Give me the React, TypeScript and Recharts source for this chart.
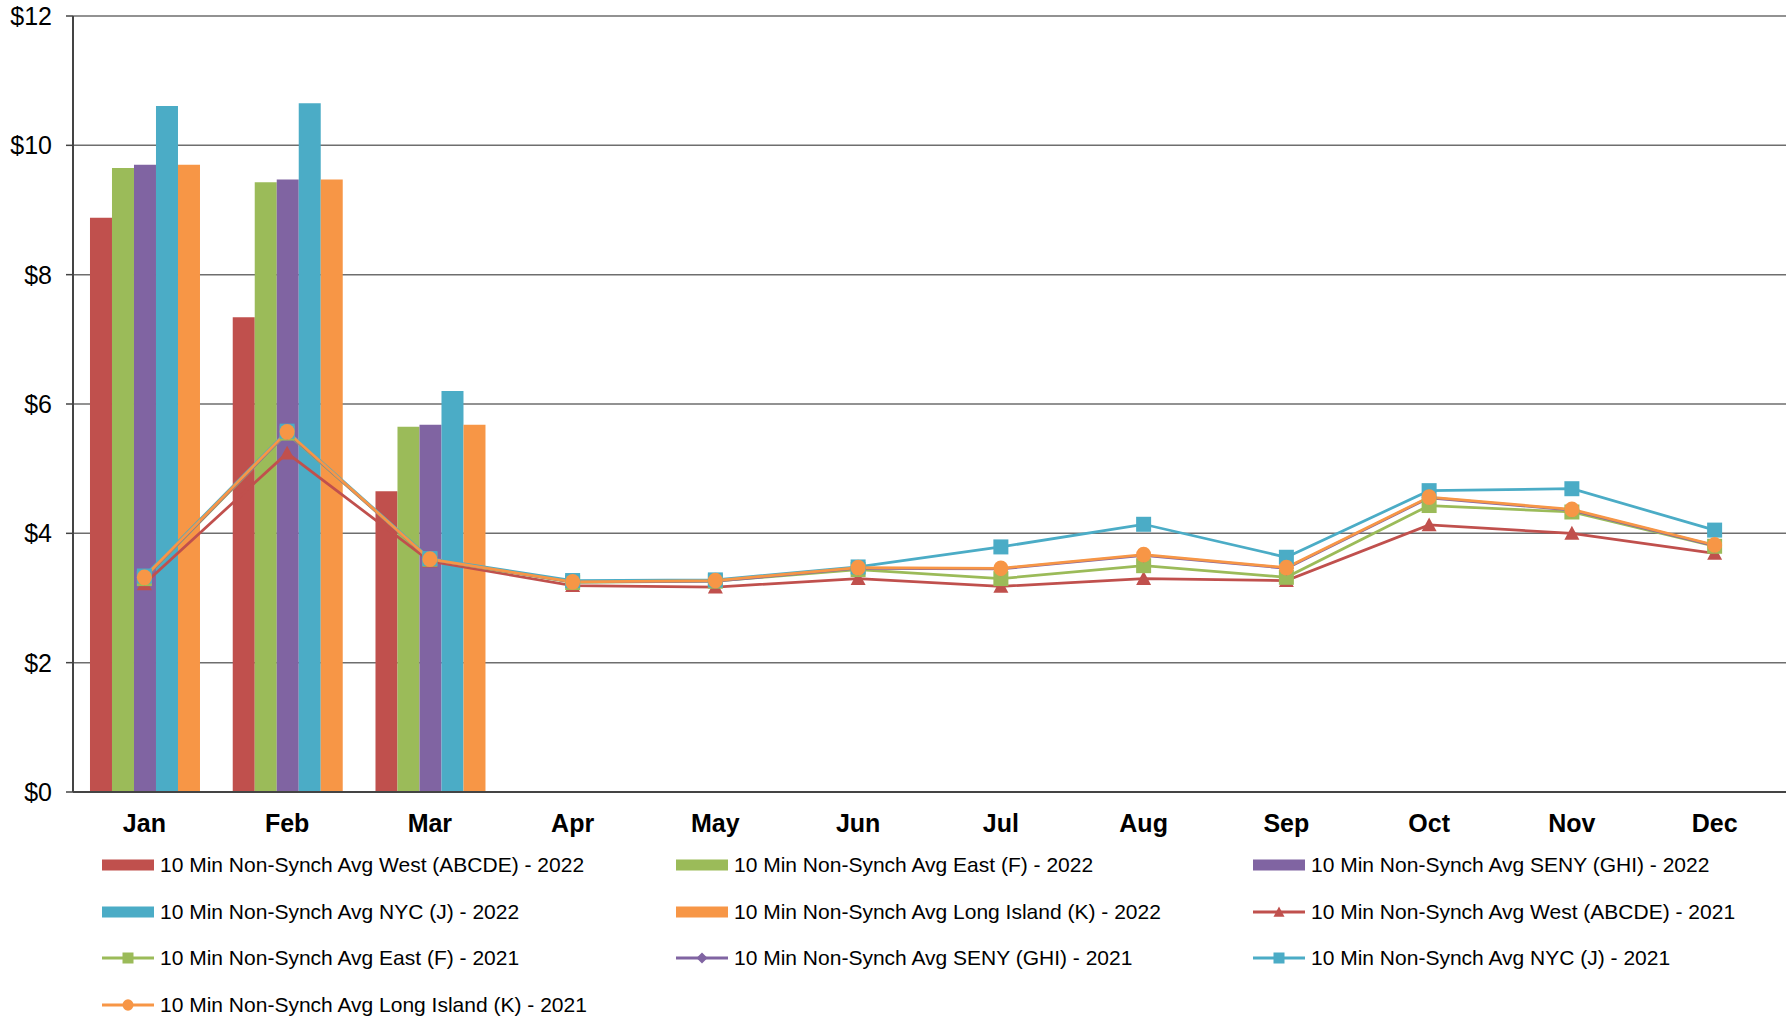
import React from "react";
import { ComposedChart, Bar, Line, XAxis, YAxis, CartesianGrid, Legend } from "recharts";

const months = ["Jan", "Feb", "Mar", "Apr", "May", "Jun", "Jul", "Aug", "Sep", "Oct", "Nov", "Dec"];
const yTicks = [0, 2, 4, 6, 8, 10, 12];

// 2022 monthly averages (bars, Jan-Mar only)
const west2022 = [8.88, 7.34, 4.65];
const east2022 = [9.65, 9.43, 5.65];
const seny2022 = [9.7, 9.47, 5.68];
const nyc2022 = [10.61, 10.65, 6.2];
const li2022 = [9.7, 9.47, 5.68];

// 2021 monthly averages (lines)
const west2021 = [3.22, 5.24, 3.57, 3.19, 3.17, 3.3, 3.18, 3.3, 3.27, 4.13, 4.0, 3.69];
const east2021 = [3.3, 5.55, 3.6, 3.24, 3.26, 3.44, 3.3, 3.5, 3.32, 4.43, 4.33, 3.8];
const seny2021 = [3.31, 5.56, 3.6, 3.25, 3.26, 3.46, 3.45, 3.66, 3.46, 4.55, 4.36, 3.81];
const nyc2021 = [3.34, 5.58, 3.61, 3.27, 3.28, 3.48, 3.79, 4.14, 3.63, 4.66, 4.69, 4.05];
const li2021 = [3.32, 5.57, 3.6, 3.25, 3.27, 3.47, 3.46, 3.67, 3.47, 4.56, 4.37, 3.82];

const RED = "#C0504D";
const GREEN = "#9BBB59";
const PURPLE = "#8064A2";
const BLUE = "#4BACC6";
const ORANGE = "#F79646";

const legendItems = [
  { name: "10 Min Non-Synch Avg West (ABCDE) - 2022", color: RED, kind: "bar" },
  { name: "10 Min Non-Synch Avg East (F) - 2022", color: GREEN, kind: "bar" },
  { name: "10 Min Non-Synch Avg SENY (GHI) - 2022", color: PURPLE, kind: "bar" },
  { name: "10 Min Non-Synch Avg NYC (J) - 2022", color: BLUE, kind: "bar" },
  { name: "10 Min Non-Synch Avg Long Island (K) - 2022", color: ORANGE, kind: "bar" },
  { name: "10 Min Non-Synch Avg West (ABCDE) - 2021", color: RED, kind: "tri" },
  { name: "10 Min Non-Synch Avg East (F) - 2021", color: GREEN, kind: "square" },
  { name: "10 Min Non-Synch Avg SENY (GHI) - 2021", color: PURPLE, kind: "diamond" },
  { name: "10 Min Non-Synch Avg NYC (J) - 2021", color: BLUE, kind: "square" },
  { name: "10 Min Non-Synch Avg Long Island (K) - 2021", color: ORANGE, kind: "circle" },
];

const data = months.map((m, i) => ({
  month: m,
  west2022: west2022[i],
  east2022: east2022[i],
  seny2022: seny2022[i],
  nyc2022: nyc2022[i],
  li2022: li2022[i],
  west2021: west2021[i],
  east2021: east2021[i],
  seny2021: seny2021[i],
  nyc2021: nyc2021[i],
  li2021: li2021[i],
}));

const FONT = "'Liberation Sans', Arial, sans-serif";

function marker(kind: string, color: string, cx: number, cy: number, s: number, key?: any) {
  if (kind === "tri")
    return <path key={key} d={`M${cx},${cy - s}L${cx + s},${cy + s * 0.85}L${cx - s},${cy + s * 0.85}Z`} fill={color} />;
  if (kind === "square")
    return <rect key={key} x={cx - s} y={cy - s} width={s * 2} height={s * 2} fill={color} />;
  if (kind === "diamond")
    return <path key={key} d={`M${cx},${cy - s}L${cx + s},${cy}L${cx},${cy + s}L${cx - s},${cy}Z`} fill={color} />;
  return <ellipse key={key} cx={cx} cy={cy} rx={s} ry={s * 1.05} fill={color} />;
}

const makeDot = (kind: string, color: string) => (p: any) => {
  const { cx, cy, index } = p;
  if (cx == null || cy == null) return <g key={index} />;
  return marker(kind, color, cx, cy, 7.5, index);
};

const renderLegend = () => (
  <div
    style={{
      display: "grid",
      gridTemplateColumns: "574px 577px 520px",
      gridAutoRows: "46.5px",
      fontFamily: FONT,
      fontSize: "21px",
      color: "#000",
    }}
  >
    {legendItems.map((it) => (
      <div key={it.name} style={{ display: "flex", alignItems: "center", whiteSpace: "nowrap" }}>
        <svg width={52} height={16} style={{ marginRight: 6 }}>
          {it.kind === "bar" ? (
            <rect x={0} y={2.5} width={52} height={11} fill={it.color} />
          ) : (
            <g>
              <line x1={0} x2={52} y1={8} y2={8} stroke={it.color} strokeWidth={3} />
              {marker(it.kind, it.color, 26, 8, 5.5)}
            </g>
          )}
        </svg>
        <span>{it.name}</span>
      </div>
    ))}
  </div>
);

export default function App() {
  return (
    <div style={{ position: "absolute", left: 0, top: 0, background: "#fff" }}>
      <ComposedChart
        width={1791}
        height={1019}
        data={data}
        margin={{ top: 16, right: 5, left: 0, bottom: 177 }}
        barCategoryGap="11.9%"
        barGap={0}
        style={{ fontFamily: FONT }}
      >
        <CartesianGrid vertical={false} stroke="#6e6e6e" strokeWidth={1.5} />
        <XAxis
          xAxisId="b"
          type="number"
          domain={[0, 12]}
          ticks={[0, 1, 2, 3, 4, 5, 6, 7, 8, 9, 10, 11, 12]}
          tick={false}
          tickSize={8}
          axisLine={false}
          tickLine={{ stroke: "#444", strokeWidth: 1.5 }}
          height={0}
        />
        <XAxis
          dataKey="month"
          height={50}
          tickLine={false}
          tickSize={8}
          tickMargin={14}
          axisLine={{ stroke: "#444", strokeWidth: 2 }}
          tick={{ fill: "#000", fontSize: 25, fontWeight: "bold" }}
          interval={0}
        />
        <YAxis
          width={73}
          domain={[0, 12]}
          ticks={yTicks}
          tickFormatter={(v) => `$${v}`}
          tickSize={7}
          tickMargin={14}
          axisLine={{ stroke: "#444", strokeWidth: 2 }}
          tickLine={{ stroke: "#444", strokeWidth: 1.5 }}
          tick={{ fill: "#000", fontSize: 25 }}
        />
        <YAxis
          yAxisId="r"
          orientation="right"
          width={0}
          tick={false}
          tickLine={false}
          axisLine={{ stroke: "#888", strokeWidth: 2 }}
        />
        <Bar dataKey="west2022" fill={RED} isAnimationActive={false} />
        <Bar dataKey="east2022" fill={GREEN} isAnimationActive={false} />
        <Bar dataKey="seny2022" fill={PURPLE} isAnimationActive={false} />
        <Bar dataKey="nyc2022" fill={BLUE} isAnimationActive={false} />
        <Bar dataKey="li2022" fill={ORANGE} isAnimationActive={false} />
        <Line dataKey="west2021" stroke={RED} strokeWidth={2.75} dot={makeDot("tri", RED)} activeDot={false} isAnimationActive={false} />
        <Line dataKey="east2021" stroke={GREEN} strokeWidth={2.75} dot={makeDot("square", GREEN)} activeDot={false} isAnimationActive={false} />
        <Line dataKey="seny2021" stroke={PURPLE} strokeWidth={2.75} dot={makeDot("diamond", PURPLE)} activeDot={false} isAnimationActive={false} />
        <Line dataKey="nyc2021" stroke={BLUE} strokeWidth={2.75} dot={makeDot("square", BLUE)} activeDot={false} isAnimationActive={false} />
        <Line dataKey="li2021" stroke={ORANGE} strokeWidth={2.75} dot={makeDot("circle", ORANGE)} activeDot={false} isAnimationActive={false} />
        <Legend
          layout="vertical"
          align="center"
          verticalAlign="middle"
          wrapperStyle={{ left: 102, top: 842, width: 1680, height: 190 }}
          content={renderLegend}
        />
      </ComposedChart>
    </div>
  );
}
